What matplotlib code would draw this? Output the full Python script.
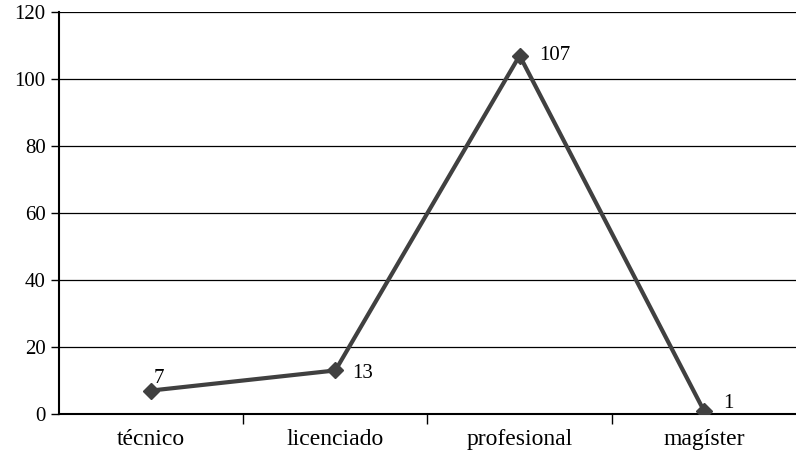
import matplotlib
matplotlib.use("Agg")
import matplotlib.pyplot as plt

categories = ["técnico", "licenciado", "profesional", "magíster"]
values = [7, 13, 107, 1]
yticks = [0, 20, 40, 60, 80, 100, 120]

plt.rcParams["font.family"] = ["Liberation Serif", "DejaVu Serif"]

fig = plt.figure(figsize=(7.96, 4.57), dpi=100)
ax = fig.add_axes([0.0741, 0.0941, 0.9259, 0.8796])

x = list(range(len(categories)))
ax.plot(x, values, color="#404040", lw=3, marker="D", ms=8,
        markerfacecolor="#404040", markeredgecolor="#404040", zorder=3)

# value labels next to each point: (dx, dy, vertical alignment)
offsets = [(2, 2, "bottom"), (12, -2, "center"), (14, 0, "center"), (14, 5, "center")]
for xi, v, (dx, dy, va) in zip(x, values, offsets):
    ax.annotate(str(v), (xi, v), xytext=(dx, dy), textcoords="offset points",
                fontsize=15, ha="left", va=va)

ax.set_xlim(-0.5, len(categories) - 0.5)
ax.set_ylim(0, 120)
ax.set_yticks(yticks)
ax.set_yticklabels([str(t) for t in yticks], fontsize=15)
ax.yaxis.grid(True, color="black", lw=0.9)
ax.set_axisbelow(True)

ax.set_xticks(x)
ax.set_xticklabels(categories, fontsize=17)
ax.tick_params(axis="x", which="major", length=0, pad=11)
ax.set_xticks([i + 0.5 for i in x[:-1]], minor=True)
ax.tick_params(axis="x", which="minor", length=7, width=1)
ax.tick_params(axis="y", length=6, width=1, direction="out")

for s in ["top", "right"]:
    ax.spines[s].set_visible(False)
ax.spines["left"].set_linewidth(1.5)
ax.spines["bottom"].set_linewidth(1.5)

fig.savefig("out.png", dpi=100)
